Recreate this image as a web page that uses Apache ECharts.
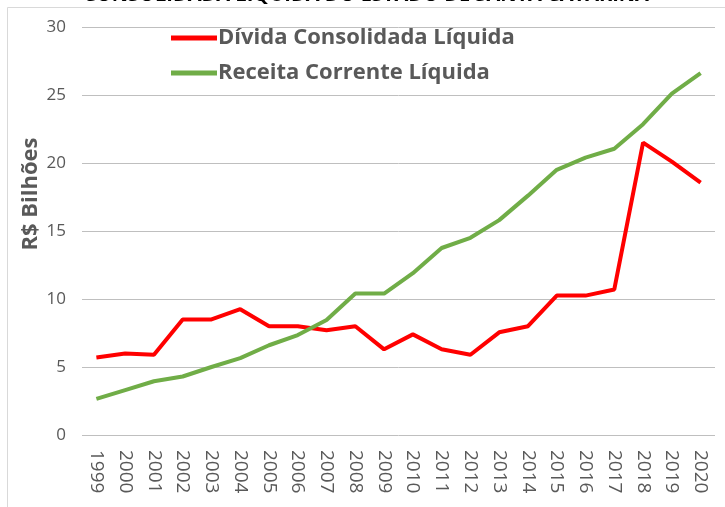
<!DOCTYPE html>
<html><head><meta charset="utf-8">
<script src="https://cdn.jsdelivr.net/npm/echarts@6/dist/echarts.min.js"></script>
<style>html,body{margin:0;padding:0;background:#fff}#c{width:725px;height:507px}</style>
</head><body><div id="c"></div>
<script>
const years = ['1999','2000','2001','2002','2003','2004','2005','2006','2007','2008','2009','2010','2011','2012','2013','2014','2015','2016','2017','2018','2019','2020'];
const divida = [5.7,6.0,5.9,8.5,8.5,9.25,8.0,8.0,7.7,8.0,6.3,7.4,6.3,5.9,7.55,8.0,10.25,10.25,10.7,21.5,20.1,18.55];
const receita = [2.65,3.3,3.95,4.3,5.0,5.65,6.6,7.35,8.45,10.4,10.4,11.9,13.75,14.5,15.8,17.6,19.5,20.4,21.05,22.85,25.1,26.6];
const seriesNames = ['Dívida Consolidada Líquida','Receita Corrente Líquida'];
const yTicks = {min:0, max:30, interval:5};
const titleText = 'CONSOLIDADA LÍQUIDA DO ESTADO DE SANTA CATARINA';
const yName = 'R$ Bilhões';

const chart = echarts.init(document.getElementById('c'), null, {renderer:'canvas'});
const font = 'Open Sans, DejaVu Sans, sans-serif';
chart.setOption({
  animation:false,
  backgroundColor:'#fff',
  graphic:[
    {type:'rect', shape:{x:7.5,y:7.5,width:740,height:520}, style:{fill:'none',stroke:'#d9d9d9',lineWidth:1}, z:-1},
    {type:'text', x:366, y:-15, style:{text:titleText, fill:'#000', font:'bold 20px '+font, align:'center', verticalAlign:'top'}},
    {type:'text', x:31, y:194, rotation:Math.PI/2, style:{text:yName, fill:'#595959', font:'bold 22px '+font, align:'center', verticalAlign:'middle'}}
  ],
  legend:{
    orient:'vertical', left:166, top:22, itemWidth:46, itemHeight:5, itemGap:13,
    icon:'rect',
    textStyle:{color:'#595959', fontSize:22, fontWeight:'bold', fontFamily:font, padding:[0,0,0,-4]},
    data:seriesNames
  },
  grid:{left:82, right:10, top:27, bottom:72, containLabel:false},
  xAxis:{
    type:'category', data:years, boundaryGap:true,
    axisLine:{show:false}, axisTick:{show:false},
    axisLabel:{rotate:-90, color:'#595959', fontSize:19, fontFamily:font, margin:15}
  },
  yAxis:{
    type:'value', min:yTicks.min, max:yTicks.max, interval:yTicks.interval,
    axisLine:{show:false}, axisTick:{show:false},
    axisLabel:{color:'#595959', fontSize:17, fontFamily:font, margin:16},
    splitLine:{lineStyle:{color:'#bfbfbf', width:1}}
  },
  series:[
    {name:seriesNames[0], type:'line', data:divida, showSymbol:false, symbol:'none', lineStyle:{color:'#ff0000', width:4}, itemStyle:{color:'#ff0000'}},
    {name:seriesNames[1], type:'line', data:receita, showSymbol:false, symbol:'none', lineStyle:{color:'#70ad47', width:4}, itemStyle:{color:'#70ad47'}}
  ]
});
</script></body></html>
